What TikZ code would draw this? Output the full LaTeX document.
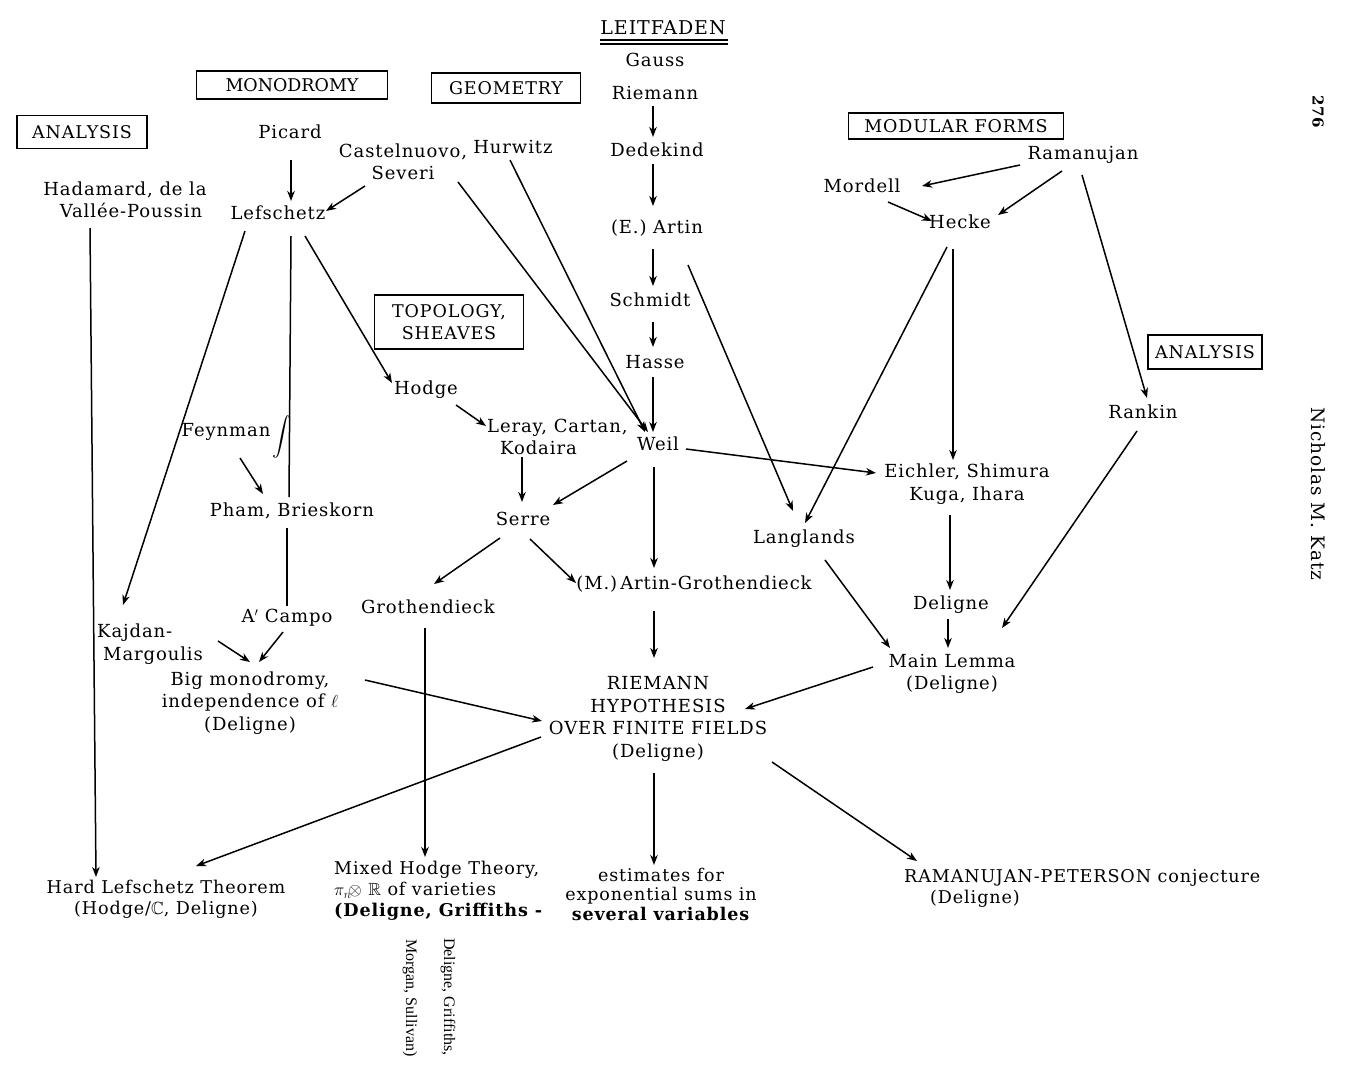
\documentclass[tikz,border=0pt]{standalone}
\usepackage{amsmath,amssymb}
\usepackage{fontspec}
\setmainfont[LetterSpace=5]{DejaVu Serif}
\newfontfamily\boxfont{DejaVu Serif}
\newfontfamily\timesfont{Liberation Serif}
\usetikzlibrary{arrows.meta}
\begin{document}
\begin{tikzpicture}[x=1pt,y=-1pt,
  lbl/.style={inner sep=0pt, align=center, font=\fontsize{18}{22.5}\selectfont},
  tight/.style={lbl, font=\fontsize{17.6}{21}\selectfont},
  boxed/.style={draw, line width=1.4pt, inner sep=0pt, align=center, font=\fontsize{17.5}{22.5}\selectfont},
  rot/.style={inner sep=0pt, rotate=-90, font=\timesfont\fontsize{16}{18}\selectfont},
  margin/.style={inner sep=0pt, rotate=-90, font=\fontsize{18.5}{20}\selectfont},
  arr/.style={line width=1.5pt, -{Stealth[length=10pt,width=7.5pt,inset=3pt]}},
  ln/.style={line width=1.5pt}]
\fill[white] (0,0) rectangle (1348,1076);
\useasboundingbox (0,0) rectangle (1348,1076);

% title
\node[lbl, font=\fontsize{19}{22}\selectfont] (leit) at (663,28) {LEITFADEN};
\draw[line width=1.2pt] ([shift={(-63,12)}]leit.center) -- ([shift={(65,12)}]leit.center);
\draw[line width=1.2pt] ([shift={(-63,16)}]leit.center) -- ([shift={(65,16)}]leit.center);

% boxes
\node[boxed, minimum width=130, minimum height=33] (analysisL) at (82,132) {ANALYSIS};
\node[boxed, font=\boxfont\fontsize{17.5}{22.5}\selectfont, minimum width=191, minimum height=28] (monodromy) at (292,85) {MONODROMY};
\node[boxed, minimum width=149, minimum height=30] (geometry) at (506,88) {GEOMETRY};
\node[boxed, minimum width=215, minimum height=26] (modular) at (956,126) {MODULAR FORMS};
\node[boxed, minimum width=114, minimum height=34] (analysisR) at (1205,352) {ANALYSIS};
\node[boxed, minimum width=149, minimum height=54] (topology) at (449,322) {TOPOLOGY,\\SHEAVES};

% central chain
\node[lbl] (gauss) at (655,60) {Gauss};
\node[lbl] (riemann) at (655,93) {Riemann};
\node[lbl] (dedekind) at (657,150) {Dedekind};
\node[lbl] (eartin) at (657,228) {(E.) Artin};
\node[lbl] (schmidt) at (650,300) {Schmidt};
\node[lbl] (hasse) at (655,362) {Hasse};
\node[lbl] (weil) at (658,444) {Weil};

% left
\node[lbl] (picard) at (290,132) {Picard};
\node[lbl] (hadamard) at (125,200) {Hadamard, de la\\\hspace*{12pt}Vall\'ee-Poussin};
\node[lbl] (lefschetz) at (278,213) {Lefschetz};
\node[lbl] (cast) at (403,162) {Castelnuovo,\\Severi};
\node[lbl] (hurwitz) at (513,147) {Hurwitz};
\node[lbl] (hodge) at (426,390) {Hodge};
\node[lbl, anchor=west, align=left] (leray) at (487,437) {Leray, Cartan,\\\hspace*{13pt}Kodaira};
\node[lbl] (feynman) at (226,432) {Feynman};
\node[inner sep=0pt, font=\fontsize{17.5}{22}\selectfont] (integral) at (282,437) {\scalebox{1.1}{$\displaystyle\int$}};
\node[lbl] (pham) at (292,511) {Pham, Brieskorn};
\node[lbl] (serre) at (523,519) {Serre};
\node[lbl] (groth) at (428,607) {Grothendieck};
\node[lbl] (magroth) at (694,584) {(M.)\,Artin-Grothendieck};
\node[lbl] (acampo) at (287,618) {A$'$ Campo};
\node[lbl, anchor=west, align=left] (kajdan) at (97,644) {Kajdan-\\\hspace*{6pt}Margoulis};
\node[lbl] (bigmono) at (250,703) {Big monodromy,\\independence of $\ell$\\(Deligne)};

% right
\node[lbl] (ramanujan) at (1083,155) {Ramanujan};
\node[lbl] (mordell) at (862,186) {Mordell};
\node[lbl] (hecke) at (960,222) {Hecke};
\node[lbl] (rankin) at (1143,412) {Rankin};
\node[lbl] (eichler) at (967,484) {Eichler, Shimura\\Kuga, Ihara};
\node[lbl] (langlands) at (804,539) {Langlands};
\node[lbl] (deligne) at (951,605) {Deligne};
\node[lbl] (mainlemma) at (952,674) {Main Lemma\\(Deligne)};

% RH and consequences
\node[lbl] (rh) at (658,719) {RIEMANN\\HYPOTHESIS\\OVER FINITE FIELDS\\(Deligne)};
\node[tight] (hardl) at (166,899) {Hard Lefschetz Theorem\\(Hodge/$\mathbb{C}$, Deligne)};
\node[tight, anchor=west, align=left] (mixed) at (334,891) {Mixed Hodge Theory,\\$\pi_n\!\otimes$ $\mathbb{R}$ of varieties\\\textbf{(Deligne, Griffiths -}};
\node[lbl, font=\fontsize{17.5}{19.5}\selectfont] (estimates) at (661,894) {estimates for\\exponential sums in\\\textbf{several variables}};
\node[tight, anchor=west, align=left] (rp) at (904,888) {RAMANUJAN-PETERSON conjecture\\\hspace*{26pt}(Deligne)};

% rotated continuation and margin
\node[rot] (rot1) at (448,997) {Deligne, Griffiths,};
\node[rot] (rot2) at (410,998) {Morgan, Sullivan)};
\node[margin, font=\bfseries\fontsize{15}{18}\selectfont] (page) at (1318,112) {276};
\node[margin] (author) at (1318,494) {Nicholas M. Katz};

% connectors: central chain
\draw[arr] ([shift={(-2,13)}]riemann.center) -- ([shift={(-4,-13)}]dedekind.center);
\draw[arr] ([shift={(-4,14)}]dedekind.center) -- ([shift={(-4,-22)}]eartin.center);
\draw[arr] ([shift={(-4,21)}]eartin.center) -- ([shift={(3,-14)}]schmidt.center);
\draw[arr] ([shift={(3,22)}]schmidt.center) -- ([shift={(-2,-15)}]hasse.center);
\draw[arr] ([shift={(-2,15)}]hasse.center) -- ([shift={(-5,-12)}]weil.center);

% left part
\draw[arr] ([shift={(1,28)}]picard.center) -- ([shift={(13,-12)}]lefschetz.center);
\draw[arr] ([shift={(-38,24)}]cast.center) -- ([shift={(48,-2)}]lefschetz.center);
\draw[arr] ([shift={(55,20)}]cast.center) -- ([shift={(-10,-12)}]weil.center);
\draw[arr] ([shift={(-3,13)}]hurwitz.center) -- ([shift={(-13,-12)}]weil.center);
\draw[arr] ([shift={(27,23)}]lefschetz.center) -- ([shift={(-34,-7)}]hodge.center);
\draw[arr] ([shift={(-33,18)}]lefschetz.center) -- ([shift={(26,-39)}]kajdan.west);
\draw[ln] ([shift={(13,23)}]lefschetz.center) -- ([shift={(-3,-14)}]pham.center);
\draw[ln] ([shift={(-5,17)}]pham.center) -- ([shift={(0,-12)}]acampo.center);
\draw[arr] ([shift={(14,26)}]feynman.center) -- ([shift={(-29,-17)}]pham.center);
\draw[arr] ([shift={(-35,28)}]hadamard.center) -- ([shift={(-70,-22)}]hardl.center);
\draw[arr] ([shift={(30,15)}]hodge.center) -- ([shift={(-1,-11)}]leray.west);
\draw[arr] ([shift={(35,20)}]leray.west) -- ([shift={(-1,-17)}]serre.center);
\draw[arr] ([shift={(-31,17)}]weil.center) -- ([shift={(30,-14)}]serre.center);
\draw[arr] ([shift={(28,5)}]weil.center) -- ([shift={(-91,-11)}]eichler.center);
\draw[arr] ([shift={(-4,23)}]weil.center) -- ([shift={(-40,-16)}]magroth.center);
\draw[arr] ([shift={(-23,19)}]serre.center) -- ([shift={(6,-23)}]groth.center);
\draw[arr] ([shift={(7,20)}]serre.center) -- ([shift={(-118,-1)}]magroth.center);
\draw[arr] ([shift={(-40,27)}]magroth.center) -- ([shift={(-4,-61)}]rh.center);
\draw[arr] ([shift={(-4,14)}]acampo.center) -- ([shift={(9,-41)}]bigmono.center);
\draw[arr] ([shift={(121,-3)}]kajdan.west) -- ([shift={(0,-41)}]bigmono.center);
\draw[arr] ([shift={(115,-23)}]bigmono.center) -- ([shift={(-116,2)}]rh.center);
\draw[arr] ([shift={(-3,21)}]groth.center) -- ([shift={(91,-34)}]mixed.west);

% right part
\draw[arr] ([shift={(31,37)}]eartin.center) -- ([shift={(-11,-28)}]langlands.center);
\draw[arr] ([shift={(-13,25)}]hecke.center) -- ([shift={(1,-16)}]langlands.center);
\draw[arr] ([shift={(-7,27)}]hecke.center) -- ([shift={(-14,-24)}]eichler.center);
\draw[arr] ([shift={(-63,10)}]ramanujan.center) -- ([shift={(60,0)}]mordell.center);
\draw[arr] ([shift={(-21,16)}]ramanujan.center) -- ([shift={(38,-7)}]hecke.center);
\draw[arr] ([shift={(26,16)}]mordell.center) -- ([shift={(-28,-1)}]hecke.center);
\draw[arr] ([shift={(-1,20)}]ramanujan.center) -- ([shift={(4,-14)}]rankin.center);
\draw[arr] ([shift={(-6,19)}]rankin.center) -- ([shift={(50,-46)}]mainlemma.center);
\draw[arr] ([shift={(-17,31)}]eichler.center) -- ([shift={(-1,-15)}]deligne.center);
\draw[arr] ([shift={(-3,14)}]deligne.center) -- ([shift={(-4,-26)}]mainlemma.center);
\draw[arr] ([shift={(21,21)}]langlands.center) -- ([shift={(-62,-26)}]mainlemma.center);
\draw[arr] ([shift={(-79,-7)}]mainlemma.center) -- ([shift={(87,-10)}]rh.center);

% consequences
\draw[arr] ([shift={(-117,18)}]rh.center) -- ([shift={(30,-33)}]hardl.center);
\draw[arr] ([shift={(-4,54)}]rh.center) -- ([shift={(-7,-29)}]estimates.center);
\draw[arr] ([shift={(114,43)}]rh.center) -- ([shift={(13,-27)}]rp.west);
\end{tikzpicture}
\end{document}
